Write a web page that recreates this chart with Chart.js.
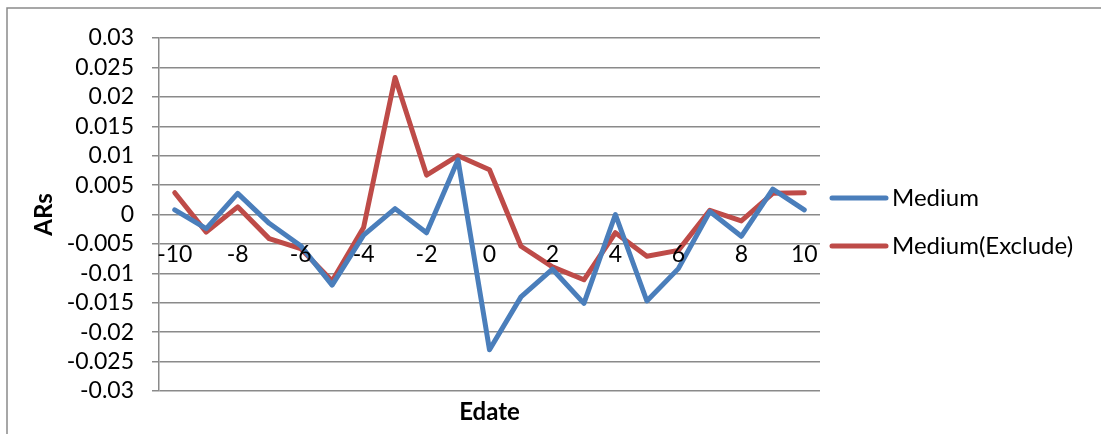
<!DOCTYPE html>
<html>
<head>
<meta charset="utf-8">
<script src="https://cdn.jsdelivr.net/npm/chart.js@4/dist/chart.umd.min.js"></script>
<style>
  html, body { margin: 0; padding: 0; background: #ffffff; }
  #wrap { position: relative; width: 1101px; height: 434px; }
</style>
</head>
<body>
<div id="wrap"><canvas id="c" width="1101" height="434"></canvas></div>
<script>
// Event days around the announcement date
const edates = [-10, -9, -8, -7, -6, -5, -4, -3, -2, -1, 0, 1, 2, 3, 4, 5, 6, 7, 8, 9, 10];
const labelInterval = 2;

// Abnormal returns per event day
const medium = [0.0008, -0.0024, 0.0036, -0.0015, -0.0053, -0.0120, -0.0035, 0.0010, -0.0031, 0.0093,
                -0.0230, -0.0140, -0.0093, -0.0151, 0.0000, -0.0147, -0.0092, 0.0005, -0.0037, 0.0043, 0.0008];
const mediumExclude = [0.0037, -0.0030, 0.0013, -0.0041, -0.0058, -0.0113, -0.0022, 0.0233, 0.0067, 0.0100,
                       0.0076, -0.0054, -0.0089, -0.0111, -0.0031, -0.0071, -0.0061, 0.0007, -0.0011, 0.0036, 0.0037];

const yTicks = [-0.03, -0.025, -0.02, -0.015, -0.01, -0.005, 0, 0.005, 0.01, 0.015, 0.02, 0.025, 0.03];

const FONT = 'Lato, "Open Sans", sans-serif';
const GRID = '#8a8a8a';

// Outer frame of the chart object
const framePlugin = {
  id: 'frame',
  beforeDraw(chart) {
    const ctx = chart.ctx;
    ctx.save();
    ctx.fillStyle = '#ffffff';
    ctx.fillRect(0, 0, chart.width, chart.height);
    ctx.strokeStyle = GRID;
    ctx.lineWidth = 1.5;
    ctx.beginPath();
    ctx.moveTo(7, chart.height);
    ctx.lineTo(7, 8);
    ctx.lineTo(chart.width, 8);
    ctx.stroke();
    ctx.restore();
  }
};

// Legend drawn to the right of the plot area
const sideLegend = {
  id: 'sideLegend',
  afterDraw(chart) {
    const ctx = chart.ctx;
    const area = chart.chartArea;
    const sets = chart.data.datasets;
    const gap = 48;
    const mid = (area.top + area.bottom) / 2 + 7.5;
    const x0 = area.right + 12;
    ctx.save();
    ctx.font = '24px ' + FONT;
    ctx.textBaseline = 'middle';
    ctx.textAlign = 'left';
    sets.forEach((ds, i) => {
      const y = mid + (i - (sets.length - 1) / 2) * gap;
      ctx.strokeStyle = ds.borderColor;
      ctx.lineWidth = ds.borderWidth;
      ctx.lineCap = 'round';
      ctx.beginPath();
      ctx.moveTo(x0, y);
      ctx.lineTo(x0 + 54, y);
      ctx.stroke();
      ctx.fillStyle = '#000000';
      ctx.fillText(ds.label, x0 + 60, y);
    });
    ctx.restore();
  }
};

new Chart(document.getElementById('c'), {
  type: 'line',
  data: {
    labels: edates.map(String),
    datasets: [
      {
        label: 'Medium',
        data: medium,
        borderColor: '#4A7EBB',
        borderWidth: 5,
        pointRadius: 0,
        tension: 0,
        borderCapStyle: 'round',
        borderJoinStyle: 'round'
      },
      {
        label: 'Medium(Exclude)',
        data: mediumExclude,
        borderColor: '#BE4B48',
        borderWidth: 5,
        pointRadius: 0,
        tension: 0,
        borderCapStyle: 'round',
        borderJoinStyle: 'round'
      }
    ]
  },
  options: {
    responsive: false,
    animation: false,
    layout: { padding: { left: 0, top: 38, right: 281, bottom: 7.6 } },
    plugins: {
      legend: { display: false },
      tooltip: { enabled: false },
      title: {
        display: true,
        text: 'Edate',
        position: 'bottom',
        fullSize: false,
        color: '#000000',
        font: { family: FONT, size: 24, weight: 'bold' },
        padding: { top: 6.6, bottom: 0 }
      }
    },
    scales: {
      x: {
        type: 'category',
        position: { y: 0 },
        offset: true,
        grid: { display: false },
        border: { display: false },
        ticks: {
          z: 1,
          autoSkip: false,
          maxRotation: 0,
          padding: 18,
          color: '#000000',
          font: { family: FONT, size: 23 },
          callback(value, index) {
            return index % labelInterval === 0 ? String(edates[index]) : '';
          }
        }
      },
      y: {
        min: -0.03,
        max: 0.03,
        afterBuildTicks(scale) {
          scale.ticks = yTicks.map(v => ({ value: v }));
        },
        afterFit(scale) { scale.width = 159; },
        grid: { color: GRID, lineWidth: 1.5, tickLength: 7 },
        border: { display: true, color: GRID, width: 1.5 },
        ticks: {
          autoSkip: false,
          padding: 18,
          color: '#000000',
          font: { family: FONT, size: 23 },
          callback(value) { return String(Number(Number(value).toFixed(3))); }
        },
        title: {
          display: true,
          text: 'ARs',
          color: '#000000',
          font: { family: FONT, size: 24, weight: 'bold' },
          padding: { top: 29.6, bottom: 0 }
        }
      }
    }
  },
  plugins: [framePlugin, sideLegend]
});
</script>
</body>
</html>
